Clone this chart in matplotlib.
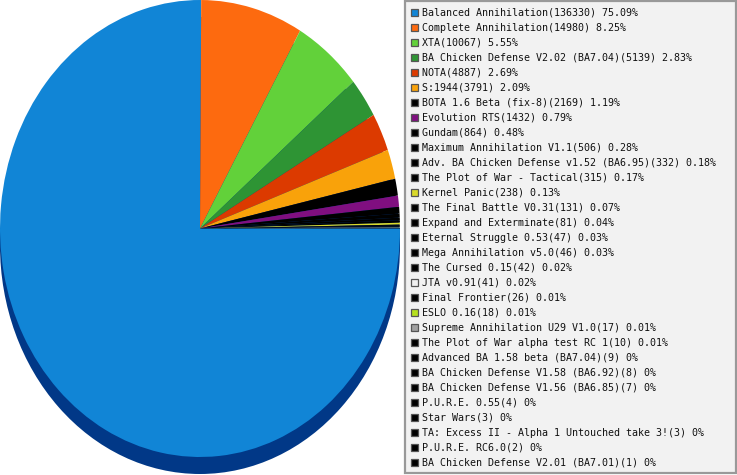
import matplotlib
matplotlib.use("Agg")
import matplotlib.pyplot as plt
from matplotlib.patches import Ellipse, Rectangle

names = [
    "Balanced Annihilation", "Complete Annihilation", "XTA",
    "BA Chicken Defense V2.02 (BA7.04)", "NOTA", "S:1944",
    "BOTA 1.6 Beta (fix-8)", "Evolution RTS", "Gundam",
    "Maximum Annihilation V1.1", "Adv. BA Chicken Defense v1.52 (BA6.95)",
    "The Plot of War - Tactical", "Kernel Panic", "The Final Battle V0.31",
    "Expand and Exterminate", "Eternal Struggle 0.53", "Mega Annihilation v5.0",
    "The Cursed 0.15", "JTA v0.91", "Final Frontier", "ESLO 0.16",
    "Supreme Annihilation U29 V1.0", "The Plot of War alpha test RC 1",
    "Advanced BA 1.58 beta (BA7.04)", "BA Chicken Defense V1.58 (BA6.92)",
    "BA Chicken Defense V1.56 (BA6.85)", "P.U.R.E. 0.55", "Star Wars",
    "TA: Excess II - Alpha 1 Untouched take 3!", "P.U.R.E. RC6.0",
    "BA Chicken Defense V2.01 (BA7.01)",
]
counts = [136330, 14980, 10067, 5139, 4887, 3791, 2169, 1432, 864, 506, 332,
          315, 238, 131, 81, 47, 46, 42, 41, 26, 18, 17, 10, 9, 8, 7, 4, 3, 3, 2, 1]
colors = [
    "#1185d6", "#fd6a0f", "#62d13a", "#2e9434", "#dc3a00", "#f9a20a",
    "#000000", "#800f80", "#000000", "#000000", "#000000", "#000000",
    "#d9d92a", "#000000", "#000000", "#000000", "#000000", "#000000",
    "#f0f0f0", "#000000", "#b5e01d", "#a0a0a0", "#000000", "#000000",
    "#000000", "#000000", "#000000", "#000000", "#000000", "#000000", "#000000",
]

total = sum(counts)
labels = []
for n, c in zip(names, counts):
    p = round(c / total * 100, 2)
    labels.append(f"{n}({c}) {p:g}%")

W, H = 737, 475
fig = plt.figure(figsize=(W / 100, H / 100), dpi=100)
fig.patch.set_facecolor("white")

# pie axes: x -1..1 -> 0..400 px, y centre at 228.5 px from top, ry 228.5 px
ax = fig.add_axes([0, 0, 400 / W, 1])
ax.set_xlim(-1, 1)
ax.set_ylim(-246.5 / 228.5, 228.5 / 228.5)
ax.set_aspect("auto")
ax.axis("off")

depth = 17 / 228.5
shadow = "#013887"
ax.add_patch(Ellipse((0, -depth), 2, 2, facecolor=shadow, edgecolor="none", zorder=0))
ax.add_patch(Rectangle((-1, -depth), 2, depth, facecolor=shadow, edgecolor="none", zorder=0))

wedges, _ = ax.pie(counts, colors=colors, startangle=0, counterclock=False,
                   radius=1, wedgeprops=dict(linewidth=0, antialiased=True))
for w in wedges:
    w.set_zorder(2)
ax.set_xlim(-1, 1)
ax.set_ylim(-246.5 / 228.5, 1.0)
ax.set_aspect("auto")

# legend drawn in pixel coordinates
lg = fig.add_axes([0, 0, 1, 1])
lg.set_xlim(0, W)
lg.set_ylim(H, 0)
lg.axis("off")
lg.add_patch(Rectangle((405, 0.8), 331, 472.5, facecolor="#f2f2f2",
                       edgecolor="#999999", linewidth=1.6))
for i, (lab, col) in enumerate(zip(labels, colors)):
    y = 12.3 + 15 * i
    lg.add_patch(Rectangle((410.8, y - 3.8), 7.6, 7.6, facecolor=col,
                           edgecolor="#555555", linewidth=0.9))
    lg.text(422.5, y + 0.3, lab, fontsize=7.2, family="DejaVu Sans Mono",
            color="#111111", va="center", ha="left")

fig.savefig("out.png", dpi=100)
